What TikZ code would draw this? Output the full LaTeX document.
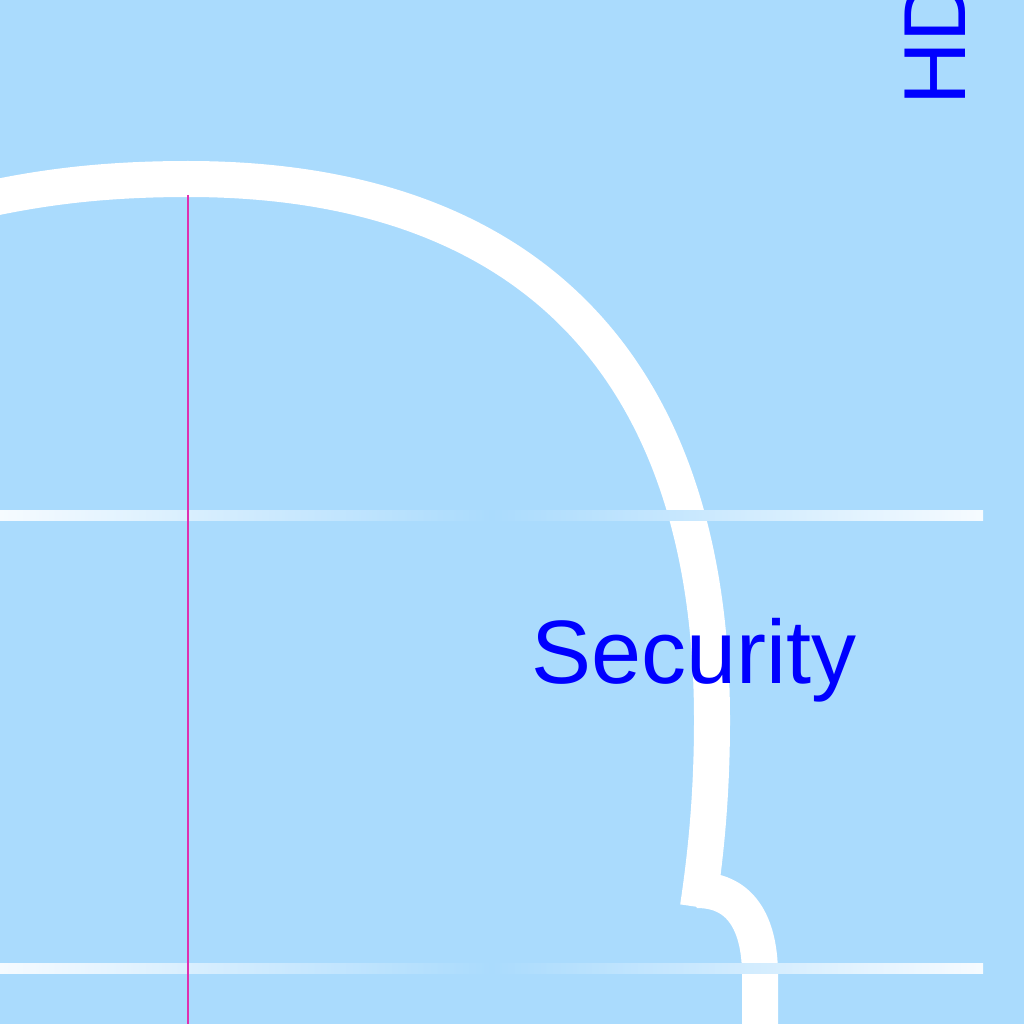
\documentclass[tikz,border=0pt]{standalone}
\usepackage{fontspec}
\setmainfont{Liberation Sans}
\definecolor{bgblue}{RGB}{170,219,253}
\definecolor{guideend}{RGB}{246,251,255}
\definecolor{txtblue}{RGB}{0,0,255}
\definecolor{pinkline}{RGB}{224,48,176}
\tikzset{
  outline/.style={draw=white, line width=36pt},
  guide/.style={left color=guideend, right color=guideend, middle color=bgblue, draw=none},
  marker/.style={draw=pinkline, line width=2.6pt},
  lbl/.style={text=txtblue, inner sep=0pt, font=\fontsize{90}{108}\selectfont},
}
\begin{document}
\begin{tikzpicture}[x=1pt,y=-1pt]
\useasboundingbox (0,0) rectangle (1024,1024);
\clip (0,0) rectangle (1024,1024);
\fill[bgblue] (0,0) rectangle (1024,1024);
% white outline curve
\draw[outline] (-12,199) .. controls (40,188) and (100,179) .. (188,179)
  .. controls (529,179) and (712,368) .. (712,720)
  .. controls (712,800) and (705,860) .. (698,907);
\draw[outline] (697,890) .. controls (745,890) and (760,930) .. (760,975) -- (760,1030);
% horizontal guide lines
\fill[guide] (0,510) rectangle (983,520);
\fill[guide] (0,963) rectangle (983,973);
% magenta vertical line
\coordinate (mtop) at (188,195);
\coordinate (mbot) at (188,1030);
\draw[marker] (mtop) -- (mbot);
% labels
\node[lbl, anchor=base west] (sec) at (531,683) {Security};
\node[lbl, anchor=base west, rotate=90, font=\fontsize{88}{100}\selectfont] (hd) at (965,106) {HD};
\end{tikzpicture}
\end{document}
